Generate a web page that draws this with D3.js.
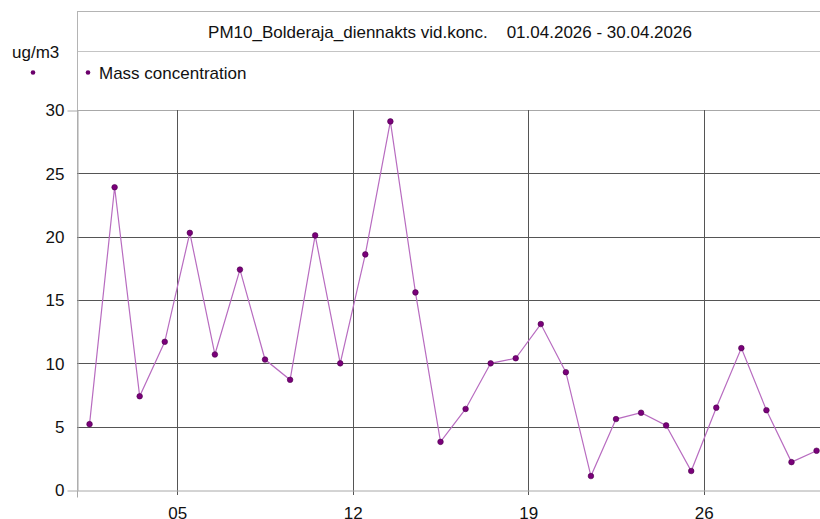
<!DOCTYPE html>
<html>
<head>
<meta charset="utf-8">
<script src="https://cdn.jsdelivr.net/npm/d3@7"></script>
<style>
  body { margin: 0; background: #fff; }
  svg { display: block; font-family: "Liberation Sans", Arial, sans-serif; }
</style>
</head>
<body>
<div id="chart"></div>
<script>
const WIDTH = 820;
const HEIGHT = 519;
const MARGINS = { left: 77, right: 0, top: 110, bottom: 29 };

const TITLE = "PM10_Bolderaja_diennakts vid.konc.    01.04.2026 - 30.04.2026";
const UNIT = "ug/m3";
const SERIES_NAME = "Mass concentration";

// day of month (April 2026), daily means
const days = [1, 2, 3, 4, 5, 6, 7, 8, 9, 10, 11, 12, 13, 14, 15,
  16, 17, 18, 19, 20, 21, 22, 23, 24, 25, 26, 27, 28, 29, 30];
const values = [5.2, 23.9, 7.4, 11.7, 20.3, 10.7, 17.4, 10.3, 8.7, 20.1,
  10.0, 18.6, 29.1, 15.6, 3.8, 6.4, 10.0, 10.4, 13.1, 9.3,
  1.1, 5.6, 6.1, 5.1, 1.5, 6.5, 11.2, 6.3, 2.2, 3.1];

const xTicks = [5, 12, 19, 26];
const yTicks = [0, 5, 10, 15, 20, 25, 30];

const data = days.map((d, i) => ({ day: d, value: values[i] }));

const svg = d3.select("#chart")
  .append("svg")
  .attr("width", WIDTH)
  .attr("height", HEIGHT);

// 25.07 px per day, plot runs past the right edge a bit
const X_SCALE = d3.scaleLinear().domain([1, 31]).range([MARGINS.left, MARGINS.left + 30 * 25.07]);
const Y_SCALE = d3.scaleLinear().domain([0, 30]).range([HEIGHT - MARGINS.bottom, MARGINS.top]);

const y0 = Y_SCALE(0), y30 = Y_SCALE(30);

// header box
svg.append("line").attr("x1", MARGINS.left).attr("x2", WIDTH).attr("y1", 11.5).attr("y2", 11.5)
  .attr("stroke", "#b4b4b4");
svg.append("line").attr("x1", MARGINS.left).attr("x2", WIDTH).attr("y1", 51.5).attr("y2", 51.5)
  .attr("stroke", "#c4c4c4");
svg.append("line").attr("x1", MARGINS.left + 0.5).attr("x2", MARGINS.left + 0.5).attr("y1", 11).attr("y2", y0)
  .attr("stroke", "#b4b4b4");

svg.append("text")
  .attr("x", 450).attr("y", 38)
  .attr("text-anchor", "middle")
  .attr("font-size", "17px")
  .attr("fill", "#111")
  .attr("xml:space", "preserve")
  .style("white-space", "pre")
  .text(TITLE);

// unit + legend
svg.append("text").attr("x", 12).attr("y", 58).attr("font-size", "17px").attr("fill", "#111").text(UNIT);
svg.append("circle").attr("cx", 33).attr("cy", 72.5).attr("r", 2.3).attr("fill", "#6b006b");
svg.append("circle").attr("cx", 88).attr("cy", 72.5).attr("r", 2.3).attr("fill", "#6b006b");
svg.append("text").attr("x", 99).attr("y", 79).attr("font-size", "17px").attr("fill", "#111").text(SERIES_NAME);

// grid
const grid = svg.append("g");
grid.selectAll(".hgrid")
  .data(yTicks.filter((t) => t > 0))
  .enter()
  .append("line")
  .attr("x1", MARGINS.left).attr("x2", WIDTH)
  .attr("y1", (d) => Math.round(Y_SCALE(d)) + 0.5)
  .attr("y2", (d) => Math.round(Y_SCALE(d)) + 0.5)
  .attr("stroke", (d) => (d === 30 ? "#a8a8a8" : "#555"));

grid.selectAll(".vgrid")
  .data(xTicks)
  .enter()
  .append("line")
  .attr("x1", (d) => Math.round(X_SCALE(d)) + 0.5)
  .attr("x2", (d) => Math.round(X_SCALE(d)) + 0.5)
  .attr("y1", y30).attr("y2", y0 + 5)
  .attr("stroke", "#555");

// axes
const yAxis = svg.append("g")
  .attr("transform", "translate(" + (MARGINS.left + 0.5) + ",0.5)")
  .call(d3.axisLeft(Y_SCALE).tickValues(yTicks).tickSize(0).tickPadding(13));
yAxis.select(".domain").attr("stroke", "#a8a8a8");
yAxis.selectAll("text").attr("font-size", "17px").attr("fill", "#111").attr("font-family", "Liberation Sans, Arial, sans-serif");
// little end ticks at 0 and 30
yAxis.selectAll(".tick")
  .filter((d) => d === 0 || d === 30)
  .append("line").attr("x1", -10).attr("x2", 0).attr("stroke", "#a8a8a8");

const xAxis = svg.append("g")
  .attr("transform", "translate(0," + (y0 + 0.5) + ")")
  .call(d3.axisBottom(X_SCALE).tickValues(xTicks).tickSize(0).tickPadding(16)
    .tickFormat(d3.format("02d")));
xAxis.select(".domain").attr("stroke", "#a8a8a8");
xAxis.selectAll("text").attr("font-size", "17px").attr("fill", "#111").attr("font-family", "Liberation Sans, Arial, sans-serif");
xAxis.append("line")
  .attr("x1", MARGINS.left + 0.5).attr("x2", MARGINS.left + 0.5)
  .attr("y1", 0).attr("y2", 7).attr("stroke", "#a8a8a8");

// series, values sit at noon of each day
const line = d3.line()
  .x((d) => X_SCALE(d.day + 0.5))
  .y((d) => Y_SCALE(d.value));

svg.append("path")
  .datum(data)
  .attr("d", line)
  .attr("fill", "none")
  .attr("stroke", "#b86cc0")
  .attr("stroke-width", 1.2);

svg.selectAll(".point")
  .data(data)
  .enter()
  .append("circle")
  .attr("class", "point")
  .attr("cx", (d) => X_SCALE(d.day + 0.5))
  .attr("cy", (d) => Y_SCALE(d.value))
  .attr("r", 2.8)
  .attr("fill", "#7a007a")
  .attr("stroke", "#4a004a")
  .attr("stroke-width", 0.6);
</script>
</body>
</html>
